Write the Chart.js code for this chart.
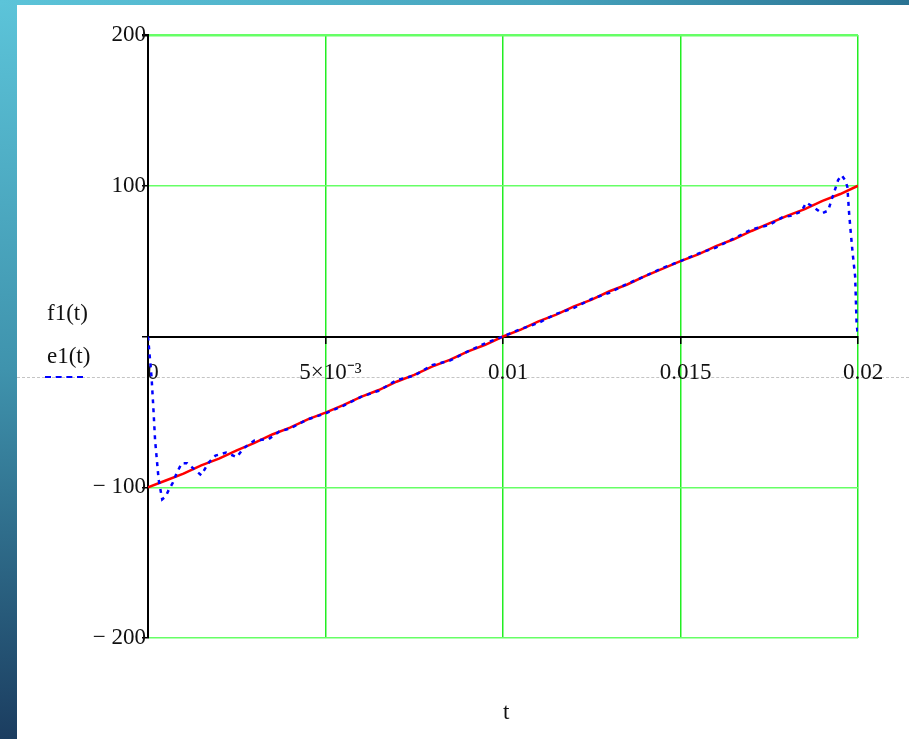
<!DOCTYPE html>
<html>
<head>
<meta charset="utf-8">
<script src="https://cdn.jsdelivr.net/npm/chart.js@4.4.1/dist/chart.umd.min.js"></script>
<style>
  body { margin: 0; background: #fff; }
  #wrap { position: relative; width: 909px; height: 739px; overflow: hidden; background: #fff; }
  .leftbar { position: absolute; left: 0; top: 0; width: 17px; height: 739px;
    background: linear-gradient(to bottom, #5cc4d9, #3f93ad 50%, #1b3d60); }
  .topbar { position: absolute; left: 0; top: 0; width: 909px; height: 5px;
    background: linear-gradient(to right, #5cc4d9, #46a3bd 60%, #2a7393); }
  .dash { position: absolute; left: 17px; top: 377px; width: 892px; height: 0;
    border-top: 1px dashed #c4c4c4; }
  canvas { position: absolute; left: 0; top: 0; }
  .lbl { position: absolute; font: 23px "Liberation Serif", serif; line-height: 26px; color: #111; white-space: nowrap; }
  .sample { position: absolute; left: 45px; top: 376px; width: 38px; height: 0; border-top: 2px dashed #0000ff; }
</style>
</head>
<body>
<div id="wrap">
  <div class="leftbar"></div>
  <div class="topbar"></div>
  <div class="dash"></div>
  <canvas id="myChart" width="909" height="739"></canvas>
  <div class="lbl" style="left:47px;top:300px">f1(t)</div>
  <div class="lbl" style="left:47px;top:343px">e1(t)</div>
  <div class="sample"></div>
  <div class="lbl" style="left:503px;top:699px">t</div>
</div>
<script>
// f1(t): the sawtooth ramp (red)
var fT = [0, 0.0005, 0.001, 0.0015, 0.002, 0.0025, 0.003, 0.0035, 0.004, 0.0045,
  0.005, 0.0055, 0.006, 0.0065, 0.007, 0.0075, 0.008, 0.0085, 0.009, 0.0095,
  0.01, 0.0105, 0.011, 0.0115, 0.012, 0.0125, 0.013, 0.0135, 0.014, 0.0145,
  0.015, 0.0155, 0.016, 0.0165, 0.017, 0.0175, 0.018, 0.0185, 0.019, 0.0195, 0.02];
var fVals = [-100, -95.5, -91, -85.5, -81, -75.5, -70.5, -65, -60.5, -55,
  -50.5, -45.5, -40, -35.5, -30, -25.5, -20, -15.5, -10, -5.5,
  0, 4.5, 10, 14.5, 20, 24.5, 30, 34.5, 40, 45,
  50, 54.5, 60, 64.5, 70, 75, 80, 84.5, 90, 94.5, 100];

// e1(t): the truncated series (blue, dotted)
var eT = [0, 0.0001, 0.00015, 0.0002, 0.0003, 0.0004, 0.0005, 0.0006, 0.0007, 0.0008,
  0.00095, 0.0011, 0.0013, 0.0015, 0.0017, 0.0019, 0.0022, 0.0025, 0.0027, 0.003,
  0.0034, 0.0037, 0.004, 0.0045, 0.005, 0.0055, 0.006, 0.0065, 0.007, 0.0075,
  0.008, 0.0085, 0.009, 0.0095, 0.01, 0.0105, 0.011, 0.0115, 0.012, 0.0125,
  0.013, 0.0135, 0.014, 0.0145, 0.015, 0.0155, 0.016, 0.0165, 0.017, 0.0175,
  0.0179, 0.0181, 0.0184, 0.01854, 0.01874, 0.01898, 0.01916, 0.01926, 0.01938, 0.01944,
  0.01954, 0.01963, 0.0197, 0.01975, 0.01979, 0.01985, 0.01992, 0.01994, 0.01996, 0.02];
var eVals = [0, -27, -47, -69, -95, -108, -106, -101, -97, -91,
  -84, -84, -88, -92, -84, -79, -77, -80, -74, -69,
  -68, -63, -61, -55, -51, -46, -40, -36, -29, -26,
  -19, -16, -10, -4.5, 0, 5, 9, 15, 19, 25,
  29, 35, 40, 45.5, 50, 55, 59, 65, 71, 74,
  79.5, 80, 82.8, 88.8, 86, 81.7, 83.5, 91, 99.4, 103.8,
  107, 104, 99.4, 81.7, 70.6, 55, 39.7, 24.2, 8.8, 0];

var xTickValues = [0, 0.005, 0.01, 0.015, 0.02];
var xTickLabels = ['0', '5×10⁻³', '0.01', '0.015', '0.02'];
var yTickValues = [-200, -100, 0, 100, 200];
var yTickLabels = ['− 200', '− 100', '', '100', '200'];

function pts(ts, vs) {
  return ts.map(function (t, i) { return { x: t, y: vs[i] }; });
}

var tickFont = { family: 'Liberation Serif', size: 23 };

var ctx = document.getElementById('myChart');
var myChart = new Chart(ctx, {
  type: 'line',
  data: {
    datasets: [
      {
        label: 'e1(t)',
        data: pts(eT, eVals),
        borderColor: '#0000ff',
        borderWidth: 2.5,
        borderDash: [4, 5],
        pointRadius: 0,
        tension: 0,
        order: 0
      },
      {
        label: 'f1(t)',
        data: pts(fT, fVals),
        borderColor: '#ff0000',
        borderWidth: 2.5,
        pointRadius: 0,
        tension: 0,
        order: 1
      }
    ]
  },
  options: {
    responsive: false,
    animation: false,
    layout: { padding: { left: 78, top: 35, right: 51, bottom: 101 } },
    plugins: { legend: { display: false }, tooltip: { enabled: false } },
    scales: {
      x: {
        type: 'linear',
        min: 0,
        max: 0.02,
        position: { y: 0 },
        afterBuildTicks: function (s) { s.ticks = xTickValues.map(function (v) { return { value: v }; }); },
        afterFit: function (s) { s.height = 0; },
        ticks: {
          callback: function (v, i) { return xTickLabels[i]; },
          font: tickFont,
          color: '#111',
          padding: 17,
          labelOffset: 5,
          maxRotation: 0,
          autoSkip: false
        },
        grid: {
          color: function (c) { return c.tick && c.tick.value === 0 ? 'rgba(0,0,0,0)' : '#22ee22'; },
          lineWidth: 1.5,
          tickColor: '#000',
          tickLength: 6
        },
        border: { color: '#000', width: 2 }
      },
      y: {
        type: 'linear',
        min: -200,
        max: 200,
        afterBuildTicks: function (s) { s.ticks = yTickValues.map(function (v) { return { value: v }; }); },
        afterFit: function (s) { s.width = 70; },
        ticks: {
          callback: function (v, i) { return yTickLabels[i]; },
          font: tickFont,
          color: '#111',
          padding: -4
        },
        grid: {
          color: function (c) { return c.tick && c.tick.value === 0 ? 'rgba(0,0,0,0)' : '#66ff66'; },
          lineWidth: function (c) { return c.tick && c.tick.value === 200 ? 2.5 : 1.5; },
          tickColor: '#000',
          tickLength: 6
        },
        border: { color: '#000', width: 2 }
      }
    }
  }
});
</script>
</body>
</html>
